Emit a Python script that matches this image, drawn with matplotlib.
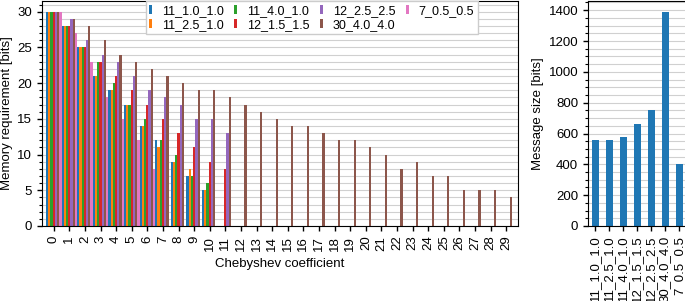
import numpy as np
import matplotlib
matplotlib.use("Agg")
import matplotlib.pyplot as plt
from matplotlib.ticker import MultipleLocator

plt.rcParams['font.family'] = ['Liberation Sans', 'DejaVu Sans']
plt.rcParams['font.size'] = 9.5

series = ["11_1.0_1.0", "11_2.5_1.0", "11_4.0_1.0", "12_1.5_1.5",
          "12_2.5_2.5", "30_4.0_4.0", "7_0.5_0.5"]
colors = ["#1f77b4", "#ff7f0e", "#2ca02c", "#d62728", "#9467bd", "#8c564b", "#e377c2"]
coefficients = list(range(30))
mem_11_1_1 = [30, 28, 25, 21, 19, 17, 14, 12, 9, 7, 5]
mem_11_25_1 = [30, 28, 25, 21, 19, 17, 14, 11, 9, 8, 5]
mem_11_4_1 = [30, 28, 25, 23, 20, 17, 15, 12, 10, 7, 6]
mem_12_15_15 = [30, 28, 25, 23, 21, 19, 17, 15, 13, 11, 9, 8]
mem_12_25_25 = [30, 29, 26, 24, 23, 21, 19, 18, 17, 15, 15, 13]
mem_30_4_4 = [30, 29, 28, 26, 24, 23, 22, 21, 20, 19, 19, 18, 17, 16, 15,
              14, 14, 13, 12, 12, 11, 10, 8, 9, 7, 7, 5, 5, 5, 4]
mem_7_05_05 = [30, 27, 23, 18, 15, 12, 8]
memory = [mem_11_1_1, mem_11_25_1, mem_11_4_1, mem_12_15_15,
          mem_12_25_25, mem_30_4_4, mem_7_05_05]
message_size = [560, 560, 580, 660, 750, 1390, 400]

fig = plt.figure(figsize=(6.85, 3.01), dpi=100)
ax1 = fig.add_axes([42/685, 1-226/301, (518-42)/685, 225/301])
ax2 = fig.add_axes([588/685, 1-226/301, 98/685, 225/301])

k = len(series)
group_w = 1.0
w = group_w / k
x = np.arange(len(coefficients))
for i, (name, vals, c) in enumerate(zip(series, memory, colors)):
    v = np.full(len(coefficients), np.nan)
    v[:len(vals)] = vals
    ax1.bar(x - group_w/2 + (i + 0.5) * w, v, width=w, color=c, label=name)

ax1.set_xlim(-0.75, 29.75)
ax1.set_ylim(0, 31.5)
ax1.set_xticks(x)
ax1.set_xticklabels([str(c) for c in coefficients], rotation=90)
ax1.yaxis.set_major_locator(MultipleLocator(5))
ax1.yaxis.set_minor_locator(MultipleLocator(1))
ax1.grid(True, axis='y', which='both', color='#d0d0d0', linewidth=0.8)
ax1.set_axisbelow(True)
ax1.set_xlabel("Chebyshev coefficient", labelpad=5)
ax1.set_ylabel("Memory requirement [bits]", labelpad=3)
ax1.legend(ncol=4, loc='upper right', bbox_to_anchor=(0.916, 1.0),
           borderaxespad=0.0, handlelength=0.25, handletextpad=0.8,
           columnspacing=0.8, labelspacing=0.15, fancybox=False,
           edgecolor='#cccccc', framealpha=1.0, borderpad=0.3, fontsize=9)

xm = np.arange(len(series))
ax2.bar(xm, message_size, width=0.5, color=colors[0])
ax2.set_xlim(-0.5, 6.5)
ax2.set_ylim(0, 1459.5)
ax2.set_xticks(xm)
ax2.set_xticklabels(series, rotation=90)
ax2.yaxis.set_major_locator(MultipleLocator(200))
ax2.yaxis.set_minor_locator(MultipleLocator(50))
ax2.grid(True, axis='y', which='both', color='#d0d0d0', linewidth=0.8)
ax2.set_axisbelow(True)
ax2.set_ylabel("Message size [bits]", labelpad=3)

for ax in (ax1, ax2):
    ax.tick_params(which='major', direction='out', length=3.5, width=1)
    ax.tick_params(which='minor', direction='out', length=2, width=0.8)

fig.savefig("out.png", dpi=100)
